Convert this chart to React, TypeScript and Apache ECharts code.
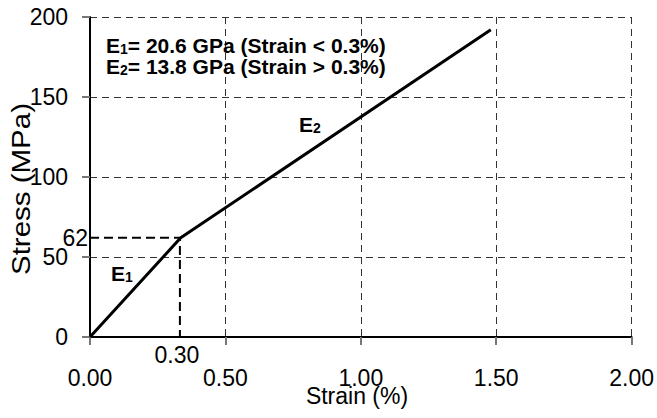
import React, { useEffect, useRef } from "react";
import * as echarts from "echarts";

const stressStrainCurve: [number, number][] = [
  [0, 0],
  [0.335, 62],
  [1.48, 192],
];
const refLine: [number, number][] = [
  [0, 62],
  [0.332, 62],
  [0.332, 0],
];
const xTicks = { min: 0, max: 2, interval: 0.5 };
const yTicks = { min: 0, max: 200, interval: 50 };
const yMarkLabel = { value: 62, text: "62" };
const xMarkLabel = { value: 0.332, text: "0.30" };

const FONT = "Arial, 'Liberation Sans', sans-serif";

export default function App() {
  const ref = useRef<HTMLDivElement>(null);
  useEffect(() => {
    document.body.style.margin = "0";
    if (!ref.current) return;
    const chart = echarts.init(ref.current, null, { renderer: "svg" });
    const richE = {
      a: { fontSize: 21, fontWeight: "bold", fontFamily: FONT, color: "#000", lineHeight: 21 },
      b: { fontSize: 14, fontWeight: "bold", fontFamily: FONT, color: "#000", lineHeight: 6, verticalAlign: "bottom" },
    };
    chart.setOption({
      animation: false,
      backgroundColor: "#fff",
      grid: { left: 90, right: 25, top: 17, bottom: 81, containLabel: false },
      xAxis: {
        type: "value",
        min: xTicks.min,
        max: xTicks.max,
        interval: xTicks.interval,
        axisLine: { show: true, onZero: false, lineStyle: { color: "#000", width: 2 } },
        axisTick: { show: true, length: 8, lineStyle: { color: "#777", width: 2 } },
        axisLabel: {
          margin: 29,
          fontSize: 23,
          fontFamily: FONT,
          color: "#000",
          formatter: (v: number) => v.toFixed(2),
        },
        splitLine: { show: true, lineStyle: { color: "#333", width: 1, type: [7, 5] } },
      },
      yAxis: {
        type: "value",
        min: yTicks.min,
        max: yTicks.max,
        interval: yTicks.interval,
        axisLine: { show: true, lineStyle: { color: "#000", width: 2 } },
        axisTick: { show: true, length: 8, lineStyle: { color: "#777", width: 2 } },
        axisLabel: { margin: 22, fontSize: 23, fontFamily: FONT, color: "#000" },
        splitLine: { show: true, lineStyle: { color: "#333", width: 1, type: [7, 5] } },
      },
      series: [
        {
          type: "line",
          data: refLine,
          symbol: "none",
          lineStyle: { color: "#000", width: 2, type: [9, 5] },
          z: 3,
        },
        {
          type: "line",
          data: stressStrainCurve,
          symbol: "none",
          lineStyle: { color: "#000", width: 3 },
          z: 4,
        },
        {
          type: "scatter",
          symbolSize: 0,
          itemStyle: { opacity: 1 },
          data: [[0, yMarkLabel.value]],
          label: {
            show: true,
            position: "left",
            distance: 2,
            formatter: yMarkLabel.text,
            fontSize: 23,
            fontFamily: FONT,
            color: "#000",
          },
          z: 5,
        },
        {
          type: "scatter",
          symbolSize: 0,
          itemStyle: { opacity: 1 },
          data: [[xMarkLabel.value, 0]],
          label: {
            show: true,
            position: "bottom",
            distance: 6,
            offset: [-3, 0],
            formatter: xMarkLabel.text,
            fontSize: 23,
            fontFamily: FONT,
            color: "#000",
          },
          z: 5,
        },
      ],
      graphic: [
        {
          type: "text",
          x: 106,
          y: 35,
          style: {
            text: "{a|E}{b|1}{a|= 20.6 GPa (Strain < 0.3%)}\n{a|E}{b|2}{a|= 13.8 GPa (Strain > 0.3%)}",
            rich: richE,
            fill: "#000",
          },
          z: 10,
        },
        {
          type: "text",
          x: 111,
          y: 263,
          style: { text: "{a|E}{b|1}", rich: richE },
          z: 10,
        },
        {
          type: "text",
          x: 299,
          y: 114,
          style: { text: "{a|E}{b|2}", rich: richE },
          z: 10,
        },
        {
          type: "text",
          x: 357,
          y: 396,
          style: {
            text: "Strain (%)",
            fontSize: 23,
            fontFamily: FONT,
            fill: "#000",
            align: "center",
            verticalAlign: "middle",
          },
          z: 10,
        },
        {
          type: "text",
          x: 21,
          y: 189,
          rotation: Math.PI / 2,
          scaleX: 1.18,
          style: {
            text: "Stress (MPa)",
            fontSize: 25,
            fontFamily: FONT,
            fill: "#000",
            align: "center",
            verticalAlign: "middle",
          },
          z: 10,
        },
      ],
    });
    return () => chart.dispose();
  }, []);
  return <div ref={ref} style={{ width: 657, height: 418 }} />;
}
